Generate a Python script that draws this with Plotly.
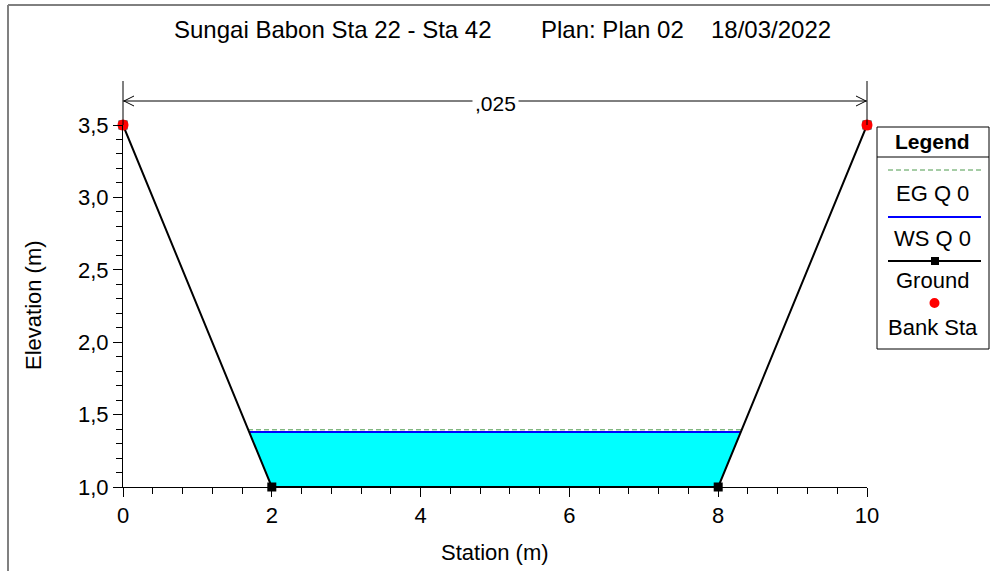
import plotly.graph_objects as go

# ---- data ----
ground_station = [0, 2, 8, 10]
ground_elev = [3.5, 1.0, 1.0, 3.5]
bank_station = [0, 10]
bank_elev = [3.5, 3.5]
ws_elev = 1.38
ws_station = [1.70, 8.30]
eg_elev = 1.395
eg_station = [1.68, 8.32]
mannings_n = ",025"
title_parts = ["Sungai Babon Sta 22 - Sta 42", "Plan: Plan 02", "18/03/2022"]
legend_labels = ["EG Q 0", "WS Q 0", "Ground", "Bank Sta"]

W, H = 990, 571
L, R, T, B = 123, 867, 125, 487
FONT = "Liberation Sans, Arial, sans-serif"
EG_COLOR = "#4C9A4C"


def px(x):
    return (x - L) / (R - L)


def py(y):
    return (B - y) / (B - T)


fig = go.Figure()

# water fill
fig.add_trace(go.Scatter(
    x=[ws_station[0], ws_station[1], ground_station[2], ground_station[1], ws_station[0]],
    y=[ws_elev, ws_elev, ground_elev[2], ground_elev[1], ws_elev],
    fill="toself", fillcolor="#00FFFF", mode="lines", line=dict(width=0),
    hoverinfo="skip", showlegend=False))
# EG
fig.add_trace(go.Scatter(x=eg_station, y=[eg_elev, eg_elev], mode="lines",
                         line=dict(color=EG_COLOR, width=1, dash="5px,3px"), showlegend=False))
# WS
fig.add_trace(go.Scatter(x=ws_station, y=[ws_elev, ws_elev], mode="lines",
                         line=dict(color="#0000FF", width=2), showlegend=False))
# Ground
fig.add_trace(go.Scatter(x=ground_station, y=ground_elev, mode="lines+markers",
                         line=dict(color="black", width=2),
                         marker=dict(symbol="square", size=9, color="black"),
                         cliponaxis=False, showlegend=False))
# Bank stations
fig.add_trace(go.Scatter(x=bank_station, y=bank_elev, mode="markers",
                         marker=dict(symbol="circle", size=11, color="#FF0000"),
                         cliponaxis=False, showlegend=False))

shapes = []
annotations = []


def text(x, y, s, size=22, angle=0):
    annotations.append(dict(xref="paper", yref="paper", x=px(x), y=py(y), text=s,
                            showarrow=False, xanchor="center", yanchor="middle",
                            textangle=angle,
                            font=dict(family=FONT, size=size, color="black")))


# frame
shapes.append(dict(type="line", xref="paper", yref="paper", x0=px(8), x1=px(992),
                   y0=py(5), y1=py(5), line=dict(color="black", width=1)))
shapes.append(dict(type="line", xref="paper", yref="paper", x0=px(8), x1=px(8),
                   y0=py(5), y1=py(575), line=dict(color="#808080", width=2)))

# n-value marker lines and arrow
shapes.append(dict(type="line", xref="paper", yref="paper", x0=0, x1=0,
                   y0=1, y1=py(81), line=dict(color="black", width=1)))
shapes.append(dict(type="line", xref="paper", yref="paper", x0=1, x1=1,
                   y0=1, y1=py(81), line=dict(color="black", width=1)))
shapes.append(dict(type="line", xref="paper", yref="paper", x0=0, x1=1,
                   y0=py(101), y1=py(101), line=dict(color="black", width=1)))
shapes.append(dict(type="path", xref="paper", yref="paper",
                   path=f"M {px(134)},{py(96)} L {px(124)},{py(101)} L {px(134)},{py(106)}",
                   line=dict(color="black", width=1)))
shapes.append(dict(type="path", xref="paper", yref="paper",
                   path=f"M {px(856)},{py(96)} L {px(866)},{py(101)} L {px(856)},{py(106)}",
                   line=dict(color="black", width=1)))
annotations.append(dict(xref="paper", yref="paper", x=0.5, y=py(103), text=mannings_n,
                        showarrow=False, bgcolor="white", borderpad=2,
                        xanchor="center", yanchor="middle",
                        font=dict(family=FONT, size=21, color="black")))

# title
for txt, cx in zip(title_parts, [333, 612, 771]):
    text(cx, 30, txt, size=24)

# axis titles
text(33, 305, "Elevation (m)", size=22, angle=-90)
text(495, 552, "Station (m)", size=22)

# legend box
shapes.append(dict(type="rect", xref="paper", yref="paper", x0=px(877), x1=px(989),
                   y0=py(127), y1=py(349), line=dict(color="black", width=1),
                   fillcolor="white", layer="above"))
shapes.append(dict(type="line", xref="paper", yref="paper", x0=px(877), x1=px(989),
                   y0=py(157), y1=py(157), line=dict(color="black", width=1)))
text(933, 141, "<b>Legend</b>", size=21)
shapes.append(dict(type="line", xref="paper", yref="paper", x0=px(888), x1=px(981),
                   y0=py(170), y1=py(170), line=dict(color=EG_COLOR, width=1, dash="5px,3px")))
shapes.append(dict(type="line", xref="paper", yref="paper", x0=px(888), x1=px(981),
                   y0=py(217), y1=py(217), line=dict(color="#0000FF", width=2)))
shapes.append(dict(type="line", xref="paper", yref="paper", x0=px(888), x1=px(981),
                   y0=py(261), y1=py(261), line=dict(color="black", width=2)))
shapes.append(dict(type="rect", xref="paper", yref="paper", x0=px(931), x1=px(939),
                   y0=py(257), y1=py(265), line=dict(color="black", width=0),
                   fillcolor="black"))
shapes.append(dict(type="circle", xref="paper", yref="paper", x0=px(929.5), x1=px(939.5),
                   y0=py(298), y1=py(308), line=dict(color="#FF0000", width=0),
                   fillcolor="#FF0000"))
for txt, cy in zip(legend_labels, [193, 238, 280, 327]):
    text(933, cy, txt, size=22)

fig.update_layout(
    width=W, height=H,
    margin=dict(l=L, r=W - R, t=T, b=H - B),
    paper_bgcolor="white", plot_bgcolor="white",
    separators=",.",
    font=dict(family=FONT, size=22, color="black"),
    showlegend=False,
    shapes=shapes, annotations=annotations,
    xaxis=dict(range=[0, 10], dtick=2, tick0=0, showgrid=False, zeroline=False,
               showline=True, linecolor="black", linewidth=1,
               ticks="outside", ticklen=9, tickcolor="black",
               minor=dict(dtick=0.4, ticks="outside", ticklen=6, tickcolor="black", showgrid=False),
               tickfont=dict(family=FONT, size=22)),
    yaxis=dict(range=[1.0, 3.5], dtick=0.5, tick0=1.0, tickformat=".1f", showgrid=False,
               zeroline=False, showline=True, linecolor="black", linewidth=1,
               ticks="outside", ticklen=9, tickcolor="black",
               minor=dict(dtick=0.1, ticks="outside", ticklen=6, tickcolor="black", showgrid=False),
               tickfont=dict(family=FONT, size=22)),
)

fig.write_html("out.html", config={"displayModeBar": False},
               post_script="document.body.style.margin='0px';")
